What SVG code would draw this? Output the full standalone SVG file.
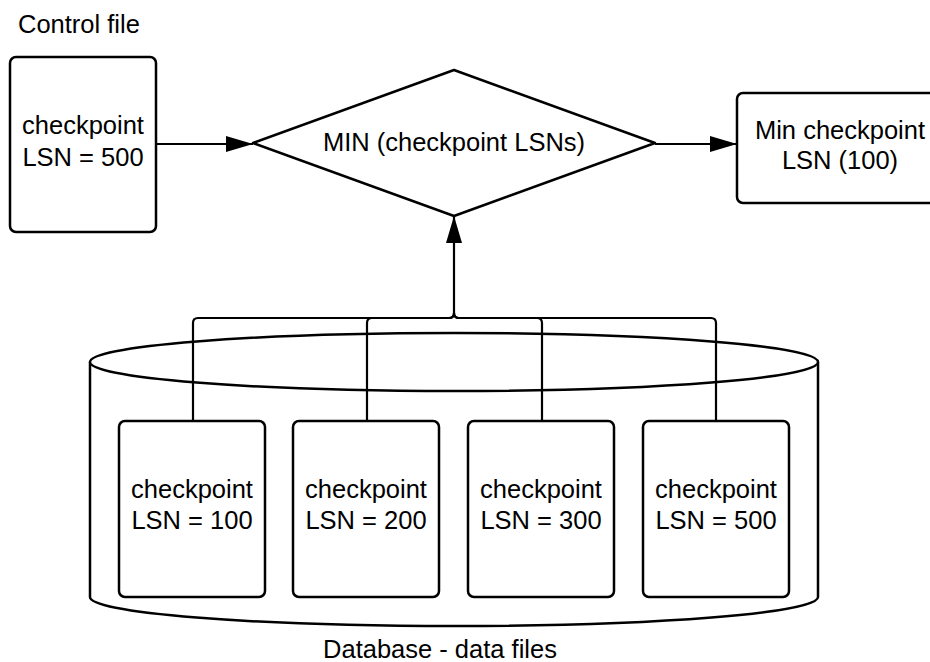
<svg xmlns="http://www.w3.org/2000/svg" width="930" height="662" viewBox="0 0 930 662">
<defs>
<style>
.box{fill:#fff;stroke:#000;stroke-width:2.5}
.ln{fill:none;stroke:#000;stroke-width:2.2}
.t{font-family:"Liberation Sans",Arial,sans-serif;font-size:25.5px;fill:#000;text-anchor:middle}
.tl{font-family:"Liberation Sans",Arial,sans-serif;font-size:25.5px;fill:#000}
</style>
<marker id="arr" viewBox="0 0 27 16" refX="27" refY="8" markerWidth="27" markerHeight="16" markerUnits="userSpaceOnUse" orient="auto">
<path d="M0,0 L27,8 L0,16 Z" fill="#000"/>
</marker>
</defs>
<rect width="930" height="662" fill="#fff"/>

<g id="control-file-label">
<text class="tl" x="18" y="33">Control file</text>
</g>

<g id="control-file">
<rect class="box" x="10" y="57" width="146" height="175" rx="6"/>
<text class="t" x="83" y="134">checkpoint</text>
<text class="t" x="83" y="166">LSN = 500</text>
</g>

<g id="min-diamond">
<path class="box" d="M253,143 L454,70 L655,143 L454,216 Z" stroke-linejoin="round"/>
<text class="t" x="454" y="151">MIN (checkpoint LSNs)</text>
</g>

<g id="min-result">
<rect class="box" x="737" y="93" width="210" height="110" rx="6"/>
<text class="t" x="840" y="139">Min checkpoint</text>
<text class="t" x="840" y="169">LSN (100)</text>
</g>

<g id="database">
<path class="box" d="M90,362 V597 A364,29 0 0 0 818,597 V362"/>
<ellipse class="box" cx="454" cy="362" rx="364" ry="29"/>
<text class="t" x="440" y="658">Database - data files</text>
</g>

<g id="connectors">
<line class="ln" x1="156" y1="144" x2="253" y2="144" marker-end="url(#arr)"/>
<line class="ln" x1="655" y1="144" x2="737" y2="144" marker-end="url(#arr)"/>
<path class="ln" d="M193,421 V323 Q193,318 198,318 H449 Q454,318 454,313"/>
<path class="ln" d="M367,421 V323 Q367,318 372,318 H449 Q454,318 454,313"/>
<path class="ln" d="M542,421 V323 Q542,318 537,318 H459 Q454,318 454,313"/>
<path class="ln" d="M716,421 V323 Q716,318 711,318 H459 Q454,318 454,313"/>
<line class="ln" x1="454" y1="313" x2="454" y2="216" marker-end="url(#arr)"/>
</g>

<g id="file-100">
<rect class="box" x="119" y="421" width="146" height="176" rx="6"/>
<text class="t" x="192" y="498">checkpoint</text>
<text class="t" x="192" y="529">LSN = 100</text>
</g>
<g id="file-200">
<rect class="box" x="293" y="421" width="146" height="176" rx="6"/>
<text class="t" x="366" y="498">checkpoint</text>
<text class="t" x="366" y="529">LSN = 200</text>
</g>
<g id="file-300">
<rect class="box" x="468" y="421" width="146" height="176" rx="6"/>
<text class="t" x="541" y="498">checkpoint</text>
<text class="t" x="541" y="529">LSN = 300</text>
</g>
<g id="file-500">
<rect class="box" x="643" y="421" width="146" height="176" rx="6"/>
<text class="t" x="716" y="498">checkpoint</text>
<text class="t" x="716" y="529">LSN = 500</text>
</g>
</svg>
